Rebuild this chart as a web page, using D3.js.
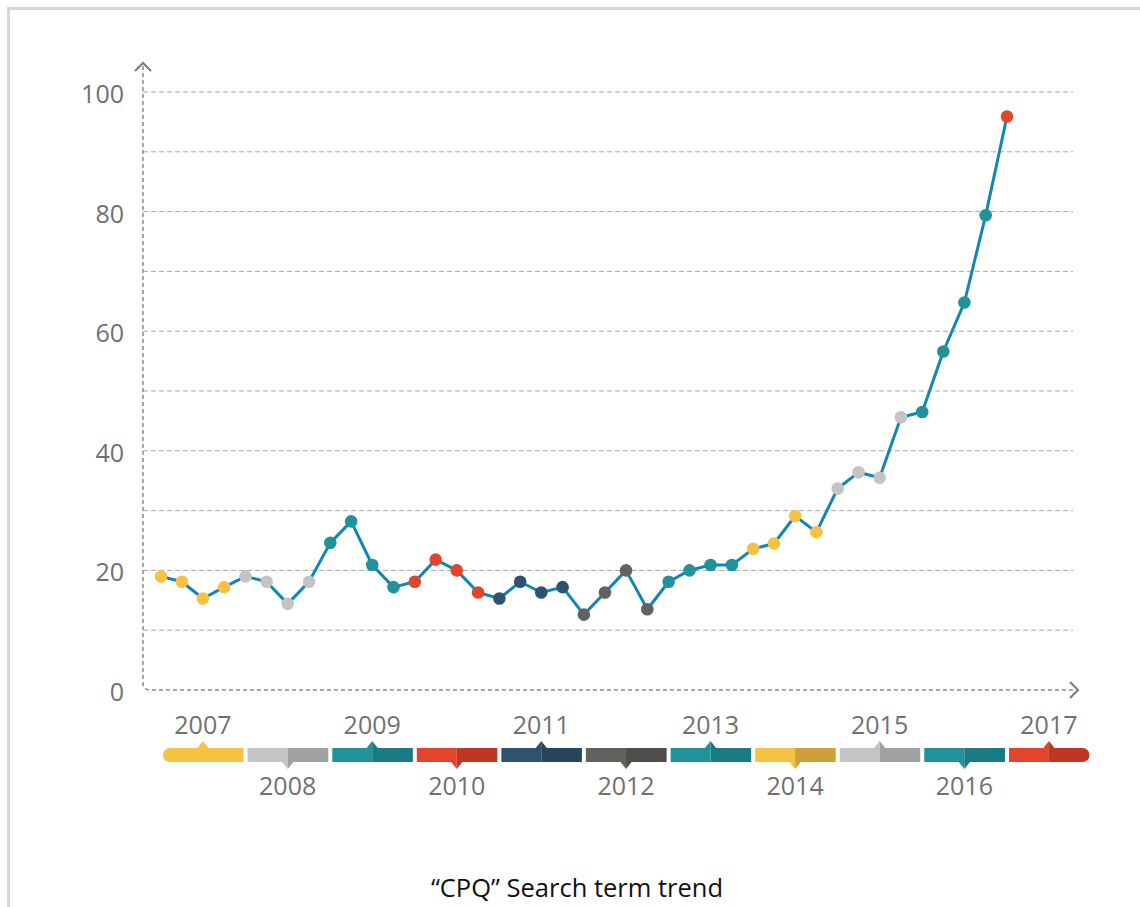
<!DOCTYPE html>
<html>
<head>
<meta charset="utf-8">
<script src="https://cdn.jsdelivr.net/npm/d3@7"></script>
<style>
  html, body { margin: 0; padding: 0; background: #fff; }
  svg { display: block; }
</style>
</head>
<body>
<svg id="chart" width="1140" height="907"></svg>
<script>
// Quarterly search interest for "CPQ", 2007 Q1 – 2017 Q1
const quarters = [
  "2007-01","2007-04","2007-07","2007-10",
  "2008-01","2008-04","2008-07","2008-10",
  "2009-01","2009-04","2009-07","2009-10",
  "2010-01","2010-04","2010-07","2010-10",
  "2011-01","2011-04","2011-07","2011-10",
  "2012-01","2012-04","2012-07","2012-10",
  "2013-01","2013-04","2013-07","2013-10",
  "2014-01","2014-04","2014-07","2014-10",
  "2015-01","2015-04","2015-07","2015-10",
  "2016-01","2016-04","2016-07","2016-10",
  "2017-01"
];
const interest = [
  19.0, 18.1, 15.3, 17.2,
  19.0, 18.1, 14.4, 18.1,
  24.6, 28.2, 20.9, 17.2,
  18.1, 21.8, 20.0, 16.3,
  15.3, 18.1, 16.3, 17.2,
  12.6, 16.3, 20.0, 13.5,
  18.1, 20.0, 20.9, 20.9,
  23.6, 24.5, 29.1, 26.4,
  33.7, 36.4, 35.5, 45.6,
  46.5, 56.6, 64.8, 79.4,
  95.9
];
const years = [2007, 2008, 2009, 2010, 2011, 2012, 2013, 2014, 2015, 2016, 2017];
// light / dark shade per year, used for the dots and the timeline band
const yearLight = ["#f7c243","#c4c4c4","#21929c","#e2452c","#2f526e","#62625e","#21929c","#f7c243","#c4c4c4","#21929c","#e2452c"];
const yearDark  = ["#f7c243","#a0a2a2","#197b84","#bf3622","#26445b","#4f4e4b","#197b84","#cfa03a","#a0a2a2","#197b84","#bf3622"];
const yTickLabels = [0, 20, 40, 60, 80, 100];
const title = "\u201CCPQ\u201D Search term trend";

const parseQ = d3.timeParse("%Y-%m");
const svg = d3.select("#chart");

// frame lines along the top and left edge
svg.append("rect").attr("x", 7).attr("y", 7).attr("width", 1140).attr("height", 3).attr("fill", "#d6d6d6");
svg.append("rect").attr("x", 7).attr("y", 7).attr("width", 3).attr("height", 907).attr("fill", "#d6d6d6");

const x = d3.scaleTime()
  .domain([new Date(2007, 0, 1), new Date(2017, 0, 1)])
  .range([161, 1007]);
const y = d3.scaleLinear().domain([0, 100]).range([690, 92]);

const axisX0 = 143, axisY0 = 690, gridRight = 1073;

// horizontal gridlines every 10 units
svg.append("g").selectAll("line")
  .data(y.ticks(10).filter(v => v > 0))
  .join("line")
  .attr("x1", axisX0).attr("x2", gridRight)
  .attr("y1", d => y(d)).attr("y2", d => y(d))
  .attr("stroke", "#a8a8a8").attr("stroke-width", 1)
  .attr("stroke-dasharray", "5,3");

// y tick labels
svg.append("g").selectAll("text")
  .data(yTickLabels)
  .join("text")
  .attr("x", 124).attr("y", d => y(d) + 11)
  .attr("text-anchor", "end")
  .attr("font-family", "'Open Sans', sans-serif")
  .attr("font-size", 25)
  .attr("fill", "#707070")
  .text(d => d);

// axes: dashed L with a rounded corner, chevrons at both ends
const r = 7;
svg.append("path")
  .attr("d", `M${axisX0},66 V${axisY0 - r} Q${axisX0},${axisY0} ${axisX0 + r},${axisY0} H1076`)
  .attr("fill", "none").attr("stroke", "#8a8a8a").attr("stroke-width", 1.5)
  .attr("stroke-dasharray", "4,3");
svg.append("path")
  .attr("d", `M${axisX0 - 8},71 L${axisX0},63 L${axisX0 + 8},71`)
  .attr("fill", "none").attr("stroke", "#7a7a7a").attr("stroke-width", 2);
svg.append("path")
  .attr("d", `M1070,${axisY0 - 8} L1078,${axisY0} L1070,${axisY0 + 8}`)
  .attr("fill", "none").attr("stroke", "#7a7a7a").attr("stroke-width", 2);

// timeline band with one segment per year
const bandTop = 748, bandH = 14, pad = 2, tri = 6, triH = 7;
const tl = svg.append("g");
years.forEach((yr, i) => {
  const x0 = x(new Date(yr, 0, 1)) + pad;
  const x1 = x(new Date(yr + 1, 0, 1)) - pad;
  const xm = x(new Date(yr, 6, 1));
  const g = tl.append("g");
  const leftPath = i === 0
    ? `M${x0 + r},${bandTop} H${xm} V${bandTop + bandH} H${x0 + r} A${r},${r} 0 0 1 ${x0 + r},${bandTop} Z`
    : `M${x0},${bandTop} H${xm} V${bandTop + bandH} H${x0} Z`;
  const rightPath = i === years.length - 1
    ? `M${xm},${bandTop} H${x1 - r} A${r},${r} 0 0 1 ${x1 - r},${bandTop + bandH} H${xm} Z`
    : `M${xm},${bandTop} H${x1} V${bandTop + bandH} H${xm} Z`;
  g.append("path").attr("d", leftPath).attr("fill", yearLight[i]);
  g.append("path").attr("d", rightPath).attr("fill", yearDark[i]);
  const up = i % 2 === 0;
  const base = up ? bandTop + 0.5 : bandTop + bandH - 0.5;
  const tip = up ? bandTop - triH : bandTop + bandH + triH;
  g.append("path").attr("d", `M${xm - tri},${base} L${xm},${tip} L${xm},${base} Z`).attr("fill", yearLight[i]);
  g.append("path").attr("d", `M${xm},${base} L${xm},${tip} L${xm + tri},${base} Z`).attr("fill", yearDark[i]);
  g.append("text")
    .attr("x", xm).attr("y", up ? 734 : 795)
    .attr("text-anchor", "middle")
    .attr("font-family", "'Open Sans', sans-serif")
    .attr("font-size", 25)
    .attr("fill", "#707070")
    .text(yr);
});

// trend line and dots
const pts = quarters.map((q, i) => ({ date: parseQ(q), value: interest[i] }));
svg.append("path")
  .datum(pts)
  .attr("d", d3.line().x(d => x(d.date)).y(d => y(d.value)))
  .attr("fill", "none").attr("stroke", "#1186b6").attr("stroke-width", 3)
  .attr("stroke-linejoin", "round");
svg.append("g").selectAll("circle")
  .data(pts)
  .join("circle")
  .attr("cx", d => x(d.date)).attr("cy", d => y(d.value))
  .attr("r", 6.3)
  .attr("fill", d => yearLight[years.indexOf(d.date.getFullYear())]);

svg.append("text")
  .attr("x", 577).attr("y", 897)
  .attr("text-anchor", "middle")
  .attr("font-family", "'Open Sans', sans-serif")
  .attr("font-size", 25.5)
  .attr("fill", "#111")
  .text(title);
</script>
</body>
</html>
